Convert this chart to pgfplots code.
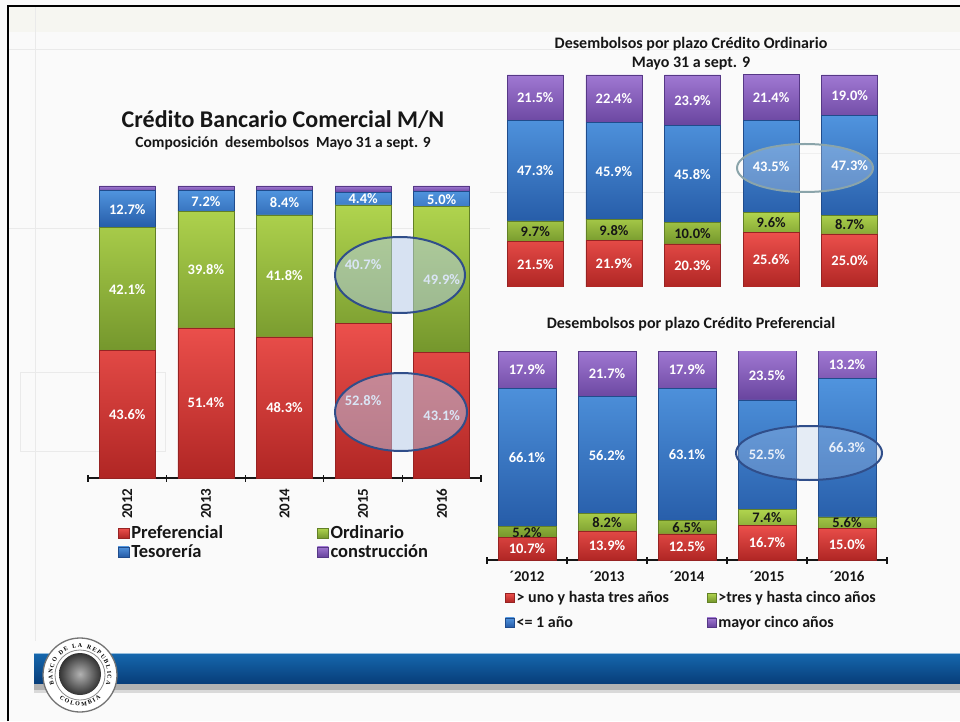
\documentclass[border=0pt]{standalone}
\usepackage{fontspec}
\setmainfont{Carlito}
\newfontfamily\logofont{Liberation Serif}
\usepackage{pgfplots}
\pgfplotsset{compat=1.18}
\usepackage{pgfplotstable}
\usetikzlibrary{decorations.text}

\definecolor{rTop}{RGB}{236,80,76}
\definecolor{rBot}{RGB}{176,38,36}
\definecolor{rEdge}{RGB}{150,35,35}
\definecolor{gTop}{RGB}{176,212,78}
\definecolor{gBot}{RGB}{116,150,44}
\definecolor{gEdge}{RGB}{98,128,38}
\definecolor{bTop}{RGB}{80,148,222}
\definecolor{bBot}{RGB}{38,92,168}
\definecolor{bEdge}{RGB}{32,76,140}
\definecolor{pTop}{RGB}{160,120,210}
\definecolor{pBot}{RGB}{104,68,158}
\definecolor{pEdge}{RGB}{86,56,134}
\definecolor{bgc}{RGB}{250,250,250}
\definecolor{faint}{RGB}{234,234,234}
\definecolor{beige}{RGB}{246,246,241}
\definecolor{bandTop}{RGB}{22,104,174}
\definecolor{bandBot}{RGB}{8,62,122}
\definecolor{bandEdge}{RGB}{150,190,222}
\definecolor{ellB}{RGB}{48,78,138}
\definecolor{ellBfill}{RGB}{182,204,236}
\definecolor{ellG}{RGB}{138,164,170}
\definecolor{txt}{RGB}{22,22,22}

\pgfplotstableread{
x pref ord tes cons
0 43.6 42.1 12.7 1.6
1 51.4 39.8 7.2 1.6
2 48.3 41.8 8.4 1.5
3 52.8 40.7 4.4 2.1
4 43.1 49.9 5.0 2.0
}\tabL

\pgfplotstableread{
x a b c d
0 21.5 9.7 47.3 21.5
1 21.9 9.8 45.9 22.4
2 20.3 10.0 45.8 23.9
3 25.6 9.6 43.5 21.4
4 25.0 8.7 47.3 19.0
}\tabO

\pgfplotstableread{
x a b c d
0 10.7 5.2 66.1 17.9
1 13.9 8.2 56.2 21.7
2 12.5 6.5 63.1 17.9
3 16.7 7.4 52.5 23.5
4 15.0 5.6 66.3 13.2
}\tabP

\newcommand\labfont{\fontsize{14.5}{16}\selectfont\bfseries}

\pgfplotsset{
  /pgf/number format/assume math mode=true,
  redbar/.style={draw=rEdge, top color=rTop, bottom color=rBot, line width=0.7pt},
  greenbar/.style={draw=gEdge, top color=gTop, bottom color=gBot, line width=0.7pt},
  bluebar/.style={draw=bEdge, top color=bTop, bottom color=bBot, line width=0.7pt},
  purplebar/.style={draw=pEdge, top color=pTop, bottom color=pBot, line width=0.7pt},
  geoL/.style={at={(88pt,243pt)}, anchor=south west, scale only axis, width=393pt, height=292pt,
    xmin=-0.5, xmax=4.5, ymin=0, ymax=100},
  geoO/.style={at={(496pt,434pt)}, anchor=south west, scale only axis, width=393pt, height=212pt,
    xmin=-0.5, xmax=4.5, ymin=0, ymax=100},
  geoP/.style={at={(487pt,161pt)}, anchor=south west, scale only axis, width=400pt, height=209pt,
    xmin=-0.5, xmax=4.5, ymin=0, ymax=100},
  lab/.style={draw=none, nodes near coords={\pgfmathprintnumber[fixed,fixed zerofill,precision=1]{\pgfplotspointmeta}\%},
    point meta=explicit, nodes near coords align={center},
    every node near coord/.append style={font=\labfont, text=#1, anchor=center}},
}

\begin{document}
\begin{tikzpicture}[x=1pt,y=1pt]
% slide background
\path[use as bounding box, fill=bgc] (0,0) rectangle (960,721);
\fill[beige] (8,689) rectangle (960,715);
\draw[faint, line width=1pt] (8,671) -- (960,671);
\draw[faint, line width=1pt] (35,715) -- (35,80);
\draw[faint, line width=0.8pt] (8,493) -- (490,493);
\draw[faint, line width=0.8pt] (720,568) -- (960,568);
\draw[faint, line width=0.8pt] (490,529) -- (960,529);
\draw[faint, line width=0.8pt] (20,349) rectangle (165,270);
\draw[black, line width=2.5pt] (8,0) -- (8,715) -- (960,715);

% ---------- left chart ----------
\begin{axis}[geoL, ybar stacked, bar width=56pt,
  axis x line*=bottom, axis y line=none,
  x axis line style={line width=1.5pt, txt},
  xtick={0,1,2,3,4}, xticklabels={2012,2013,2014,2015,2016},
  major tick length=0pt,
  minor xtick={-0.5,0.5,1.5,2.5,3.5,4.5}, minor tick length=7pt, tick align=center,
  minor tick style={line width=1.2pt, txt},
  xticklabel style={rotate=90, anchor=east, font=\fontsize{15}{17}\selectfont\bfseries, text=txt},
  xticklabel shift=7pt,
  legend columns=2,
  legend cell align=left,
  legend image code/.code={\draw[#1, line width=0.4pt] (0pt,-5pt) rectangle (11pt,5pt);},
  legend style={at={(0.068,-0.150)}, anchor=north west, draw=none, fill=none,
    font=\fontsize{18.5}{20}\selectfont\bfseries, text=txt, row sep=0pt,
    /tikz/every even column/.append style={column sep=92pt}},
]
\addplot[redbar] table[x=x, y=pref]{\tabL};
\addplot[greenbar] table[x=x, y=ord]{\tabL};
\addplot[bluebar] table[x=x, y=tes]{\tabL};
\addplot[purplebar] table[x=x, y=cons]{\tabL};
\legend{Preferencial, Ordinario, Tesorería, construcción}
\end{axis}
\begin{axis}[geoL, hide axis, clip=false]
\addplot[lab=white] table[x=x, y expr=\thisrow{pref}/2, meta=pref]{\tabL};
\addplot[lab=white] table[x=x, y expr=\thisrow{pref}+\thisrow{ord}/2, meta=ord]{\tabL};
\addplot[lab=white] table[x=x, y expr=\thisrow{pref}+\thisrow{ord}+\thisrow{tes}/2, meta=tes]{\tabL};
\end{axis}

% ---------- top right chart ----------
\begin{axis}[geoO, ybar stacked, bar width=56pt, hide axis]
\addplot[redbar] table[x=x, y=a]{\tabO};
\addplot[greenbar] table[x=x, y=b]{\tabO};
\addplot[bluebar] table[x=x, y=c]{\tabO};
\addplot[purplebar] table[x=x, y=d]{\tabO};
\end{axis}
\begin{axis}[geoO, hide axis, clip=false]
\addplot[lab=white] table[x=x, y expr=\thisrow{a}/2, meta=a]{\tabO};
\addplot[lab=txt] table[x=x, y expr=\thisrow{a}+\thisrow{b}/2, meta=b]{\tabO};
\addplot[lab=white] table[x=x, y expr=\thisrow{a}+\thisrow{b}+\thisrow{c}/2, meta=c]{\tabO};
\addplot[lab=white] table[x=x, y expr=\thisrow{a}+\thisrow{b}+\thisrow{c}+\thisrow{d}/2, meta=d]{\tabO};
\end{axis}

% ---------- bottom right chart ----------
\begin{axis}[geoP, ybar stacked, bar width=58pt,
  axis x line*=bottom, axis y line=none,
  x axis line style={line width=1.5pt, txt},
  xtick={0,1,2,3,4}, xticklabels={´2012,´2013,´2014,´2015,´2016},
  major tick length=0pt,
  minor xtick={-0.5,0.5,1.5,2.5,3.5,4.5}, minor tick length=7pt, tick align=center,
  minor tick style={line width=1.2pt, txt},
  xticklabel style={font=\fontsize{15}{17}\selectfont\bfseries, text=txt},
  xticklabel shift=8pt,
  legend columns=2,
  legend cell align=left,
  legend image code/.code={\draw[#1, line width=0.4pt] (0pt,-4.5pt) rectangle (9pt,4.5pt);},
  legend style={at={(0.0375,-0.13)}, anchor=north west, draw=none, fill=none,
    font=\fontsize{16}{17}\selectfont\bfseries, text=txt, row sep=8pt,
    /tikz/every even column/.append style={column sep=36pt}},
]
\addplot[redbar] table[x=x, y=a]{\tabP};
\addplot[greenbar] table[x=x, y=b]{\tabP};
\addplot[bluebar] table[x=x, y=c]{\tabP};
\addplot[purplebar] table[x=x, y=d]{\tabP};
\legend{> uno y hasta tres años, >tres y hasta cinco años, <= 1 año, mayor cinco años}
\end{axis}
\begin{axis}[geoP, hide axis, clip=false]
\addplot[lab=white] table[x=x, y expr=\thisrow{a}/2, meta=a]{\tabP};
\addplot[lab=txt] table[x=x, y expr=\thisrow{a}+\thisrow{b}/2, meta=b]{\tabP};
\addplot[lab=white] table[x=x, y expr=\thisrow{a}+\thisrow{b}+\thisrow{c}/2, meta=c]{\tabP};
\addplot[lab=white] table[x=x, y expr=\thisrow{a}+\thisrow{b}+\thisrow{c}+\thisrow{d}/2, meta=d]{\tabP};
\end{axis}

% ---------- highlight ellipses ----------
\draw[ellB, line width=2pt, fill=ellBfill, fill opacity=0.5] (400,446) ellipse (65 and 38);
\draw[ellB, line width=2pt, fill=ellBfill, fill opacity=0.5] (401,309) ellipse (66 and 39);
\draw[ellG, line width=2pt, fill=white, fill opacity=0.25] (805,553) ellipse (68 and 24);
\draw[ellB, line width=2pt, fill=ellBfill, fill opacity=0.3] (809,268) ellipse (73 and 27);

% ---------- titles ----------
\node[anchor=base, text=txt, font=\fontsize{24}{27}\selectfont\bfseries] at (283,593) {Crédito Bancario Comercial M/N};
\node[anchor=base, text=txt, font=\fontsize{15.5}{17}\selectfont\bfseries] at (283,573) {Composición\ \ desembolsos\ \ Mayo 31 a sept. 9};
\node[anchor=base, text=txt, font=\fontsize{16}{18}\selectfont\bfseries] at (691,672) {Desembolsos por plazo Crédito Ordinario};
\node[anchor=base, text=txt, font=\fontsize{16}{18}\selectfont\bfseries] at (691,653) {Mayo 31 a sept. 9};
\node[anchor=base, text=txt, font=\fontsize{16}{18}\selectfont\bfseries] at (691,392) {Desembolsos por plazo Crédito Preferencial};

% ---------- bottom band and logo ----------
\fill[black!30] (34,31) rectangle (960,38);
\fill[black!15] (34,28) rectangle (960,31);
\shade[top color=bandTop, bottom color=bandBot] (34,38) rectangle (960,68);
\draw[bandEdge, line width=1pt] (34,68) -- (960,68);
\fill[white] (80,46) circle (37);
\draw[black!55, line width=1.3pt] (80,46) circle (37);
\draw[black!45, line width=0.8pt] (80,46) circle (25);
\shade[inner color=black!30, outer color=black!80] (80,47) circle (21);
\path[decorate, decoration={text along path, text align=fit to path, raise=-2.5pt,
  text={|\logofont\fontsize{6}{7}\selectfont\bfseries|BANCO DE LA REPUBLICA}}]
  (80,46) ++(200:30) arc (200:-20:30);
\path[decorate, decoration={text along path, text align=fit to path, raise=-1pt,
  text={|\logofont\fontsize{6}{7}\selectfont\bfseries|COLOMBIA}}]
  (80,46) ++(228:30) arc (228:312:30);
\end{tikzpicture}
\end{document}
